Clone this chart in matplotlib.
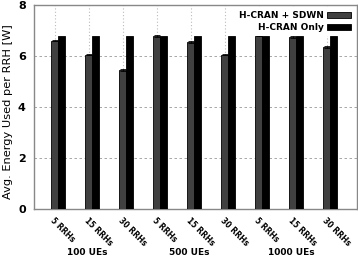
import numpy as np
import matplotlib
matplotlib.use('Agg')
import matplotlib.pyplot as plt
import matplotlib.transforms as mtrans

# Data
rrh_labels = ['5 RRHs', '15 RRHs', '30 RRHs'] * 3
ue_labels = ['100 UEs', '500 UEs', '1000 UEs']
sdwn = [6.6, 6.05, 5.45, 6.78, 6.55, 6.05, 6.8, 6.75, 6.35]
hcran_only = [6.8, 6.8, 6.8, 6.8, 6.8, 6.8, 6.8, 6.8, 6.8]

x = np.arange(len(sdwn))
w = 0.2

fig = plt.figure(figsize=(3.58, 2.59), dpi=100)
ax = fig.add_axes([34/358, 50/259, 323/358, 204/259])

ax.bar(x - w/2, sdwn, w, color='#404040', edgecolor='black', linewidth=0.6,
       yerr=0.03, error_kw=dict(ecolor='black', capsize=2, elinewidth=0.6, capthick=0.6),
       label='H-CRAN + SDWN', zorder=3)
ax.bar(x + w/2, hcran_only, w, color='black', edgecolor='black', linewidth=0.6,
       label='H-CRAN Only', zorder=3)

ax.set_xlim(-0.71, 8.79)
ax.set_ylim(0, 8)
ax.set_yticks([0, 2, 4, 6, 8])
ax.set_xticks(x - 0.09)
ax.set_xticklabels(rrh_labels)
# rotated labels, nudged left like the original
off = mtrans.ScaledTranslation(-5/100, 2/100, fig.dpi_scale_trans)
for t in ax.get_xticklabels():
    t.set_rotation(-45)
    t.set_ha('left')
    t.set_va('top')
    t.set_rotation_mode('anchor')
    t.set_fontsize(5.5)
    t.set_fontweight('bold')
    t.set_transform(t.get_transform() + off)
ax.tick_params(axis='x', length=0, pad=5)
ax.tick_params(axis='y', length=0, labelsize=8, pad=6)
for t in ax.get_yticklabels():
    t.set_fontweight('bold')

ax.yaxis.grid(True, color='#999999', linestyle=(0, (3, 3)), linewidth=0.6, zorder=0)
ax.xaxis.grid(True, color='#bbbbbb', linestyle=(0, (1, 2)), linewidth=0.8, zorder=0)
for s in ax.spines.values():
    s.set_color('#888888')
    s.set_linewidth(1.0)

ax.set_ylabel('Avg. Energy Used per RRH [W]', fontsize=8.2)
ax.yaxis.set_label_coords(-0.066, 0.475)

for i, lab in enumerate(ue_labels):
    ax.text(3*i + 0.85, -0.215, lab, transform=ax.get_xaxis_transform(),
            ha='center', va='center', fontsize=6.5, fontweight='bold')

leg = ax.legend(loc='upper right', frameon=True, markerfirst=False, fontsize=6.5,
                handlelength=2.6, handleheight=0.7, borderaxespad=0.3,
                labelspacing=0.3, handletextpad=0.4)
leg.get_frame().set_edgecolor('none')
leg.get_frame().set_facecolor('white')
leg.get_frame().set_alpha(1)
for t in leg.get_texts():
    t.set_fontweight('bold')
    t.set_ha('right')

fig.savefig('out.png', dpi=100)
